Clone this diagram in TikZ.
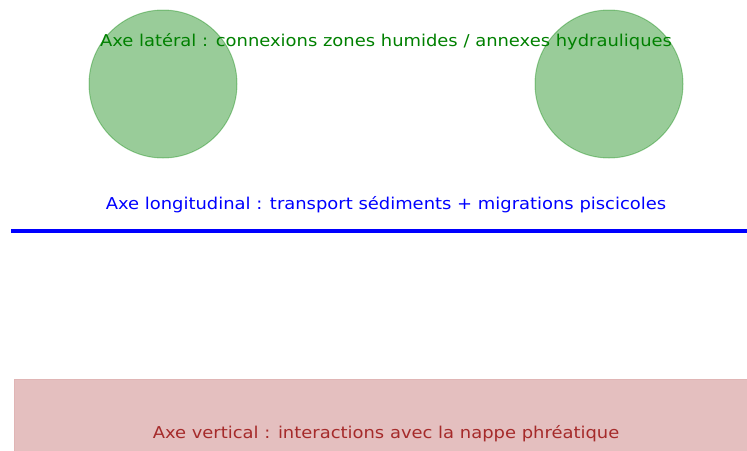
\documentclass[tikz,border=0pt]{standalone}
\usepackage{fontspec}
\setmainfont{DejaVu Sans}[FakeStretch=1.1]
\definecolor{cgreen}{RGB}{0,128,0}
\definecolor{cbrown}{RGB}{165,42,42}
\definecolor{cblue}{RGB}{0,0,255}
\begin{document}
\begin{tikzpicture}[x=1pt,y=-1pt,
  zone/.style={circle,minimum size=148pt,inner sep=0pt,fill=cgreen,fill opacity=0.4,draw=cgreen,draw opacity=0.35,line width=1pt},
  lbl/.style={font=\fontsize{16.3}{18}\selectfont,inner sep=0pt}]
\useasboundingbox (0,0) rectangle (747,450);
\node[zone] (zl) at (163,84) {};
\node[zone] (zr) at (609,84) {};
\node[lbl,text=cgreen] (tlat) at (386,42) {Axe latéral : connexions zones humides / annexes hydrauliques};
\coordinate (rs) at (11,231);
\coordinate (re) at (760,231);
\draw[cblue,line width=4pt] (rs) -- (re);
\node[lbl,text=cblue] (tlon) at (386,205) {Axe longitudinal : transport sédiments + migrations piscicoles};
\node[draw=cbrown,draw opacity=0.35,fill=cbrown,fill opacity=0.3,line width=1pt,minimum width=760pt,minimum height=90pt,anchor=north west,inner sep=0pt] (nappe) at (14,379) {};
\node[lbl,text=cbrown] (tver) at (386,434) {Axe vertical : interactions avec la nappe phréatique};
\end{tikzpicture}
\end{document}
